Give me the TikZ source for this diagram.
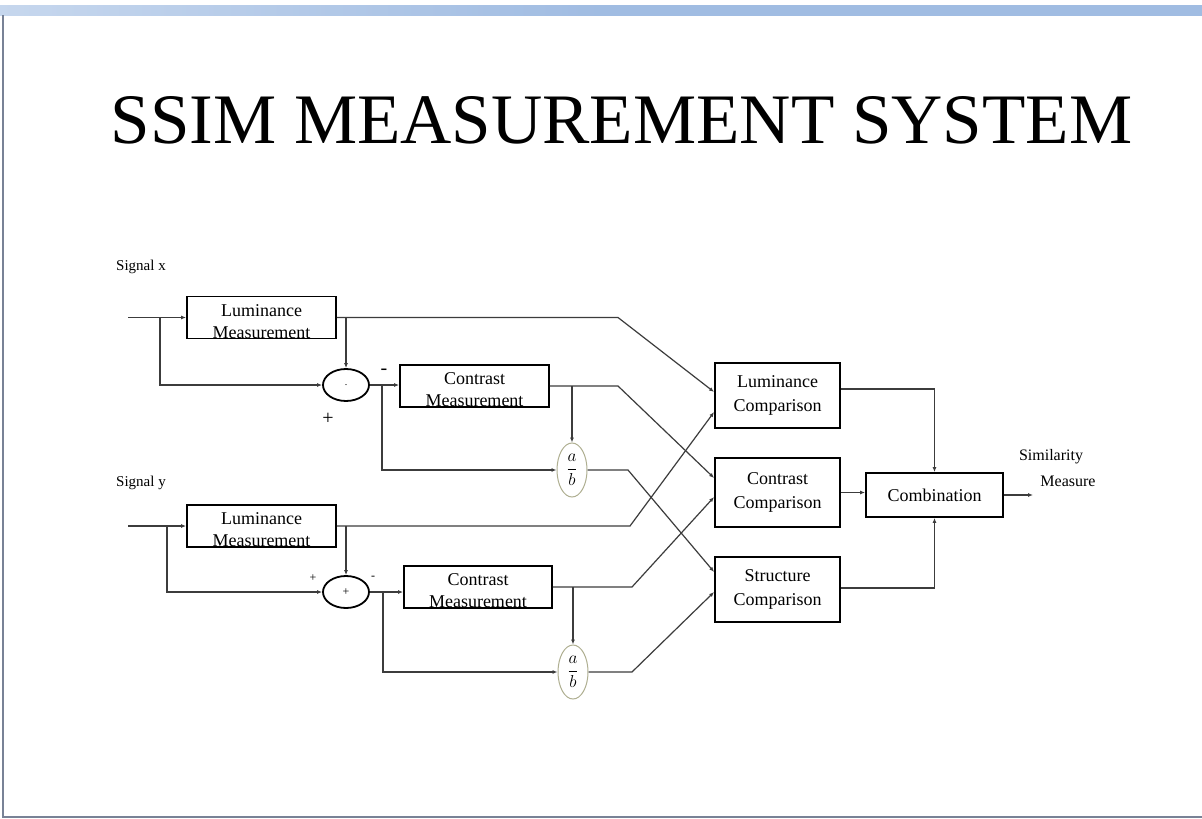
\documentclass[tikz,border=0pt]{standalone}
\usepackage{fontspec}
\setmainfont{Liberation Serif}
\usetikzlibrary{arrows.meta,shapes.geometric,calc}
\definecolor{bandblue}{RGB}{160,188,226}
\definecolor{framegray}{RGB}{120,130,150}
\definecolor{wire}{RGB}{60,60,60}
\definecolor{ellc}{RGB}{175,175,145}
\tikzset{
  mbox/.style={draw=black,line width=1.8pt,minimum width=149pt,minimum height=42pt,inner sep=0pt},
  mtext/.style={align=center,font=\fontsize{18}{22}\selectfont,inner sep=0pt},
  cbox/.style={draw=black,line width=1.8pt,minimum width=125pt,minimum height=65pt,inner sep=0pt,align=center,font=\fontsize{18}{24}\selectfont},
  sumnode/.style={ellipse,draw=black,line width=1.8pt,minimum width=46pt,minimum height=32pt,inner sep=0pt},
  divnode/.style={ellipse,draw=ellc,line width=1pt,minimum width=30pt,minimum height=54pt,inner sep=0pt,font=\fontsize{16}{18}\selectfont},
  conn/.style={draw=wire,line width=1.2pt},
  arr/.style={conn,-{Latex[length=5pt,width=4pt]}},
  lbl/.style={inner sep=0pt,font=\fontsize{15}{17}\selectfont}
}
\begin{document}
\begin{tikzpicture}[x=1pt,y=-1pt]
\useasboundingbox (0,0) rectangle (1202,819);
% frame
\fill[white] (0,0) rectangle (1202,819);
\shade[left color=bandblue!60,right color=bandblue,middle color=bandblue] (0,5) rectangle (1202,15);
\draw[framegray,line width=1.2pt] (3,15) -- (3,817) -- (1202,817);
% title
\node[anchor=base,inner sep=0pt,font=\fontsize{71}{80}\selectfont] (title) at (621.5,143) {SSIM MEASUREMENT SYSTEM};
% labels
\node[lbl,anchor=base west] (sx) at (116,270) {Signal x};
\node[lbl,anchor=base west] (sy) at (116,486) {Signal y};
\node[lbl,anchor=base,font=\fontsize{16}{18}\selectfont] (sim) at (1051,460) {Similarity};
\node[lbl,anchor=base,font=\fontsize{16}{18}\selectfont] (meas) at (1068,486) {Measure};
% coordinates
\coordinate (inx) at (128,317.5);
\coordinate (iny) at (128,526);
\coordinate (outp) at (1033,495);
% boxes
\node[mbox] (lum1) at (261.5,317.5) {};
\node[mtext] at ([yshift=-4pt]lum1.center) {Luminance\\Measurement};
\node[mbox] (con1) at (474.5,386) {};
\node[mtext] at ([yshift=-4pt]con1.center) {Contrast\\Measurement};
\node[mbox] (lum2) at (261.5,526) {};
\node[mtext] at ([yshift=-4pt]lum2.center) {Luminance\\Measurement};
\node[mbox,minimum width=148pt] (con2) at (478,587) {};
\node[mtext] at ([yshift=-4pt]con2.center) {Contrast\\Measurement};
\node[sumnode,font=\fontsize{10}{10}\selectfont] (sum1) at (346,385) {.};
\node[sumnode,font=\fontsize{12}{12}\selectfont] (sum2) at (346,592) {+};
\node[divnode] (div1) at (572,470) {$\displaystyle\frac{a}{b}$};
\node[divnode] (div2) at (573,672) {$\displaystyle\frac{a}{b}$};
\node[cbox] (lc) at (777.5,395.5) {Luminance\\Comparison};
\node[cbox,minimum height=69pt] (cc) at (777.5,492.5) {Contrast\\Comparison};
\node[cbox] (sc) at (777.5,589.5) {Structure\\Comparison};
\node[cbox,minimum width=137pt,minimum height=44pt] (comb) at (934.5,495) {Combination};
% signs
\node[inner sep=0pt,font=\fontsize{20}{20}\selectfont] (m1) at (384,372) {-};
\node[inner sep=0pt,font=\fontsize{20}{20}\selectfont] (p1) at (328,419) {+};
\node[inner sep=0pt,font=\fontsize{12}{12}\selectfont] (p2) at (313,578) {+};
\node[inner sep=0pt,font=\fontsize{12}{12}\selectfont] (m2) at (373,578) {-};
% top chain
\draw[arr] (inx) -- (lum1.west);
\draw[arr] ([xshift=32pt]inx) |- (sum1.west);
\draw[arr] (lum1.east) -- (618,317.5) -- ([yshift=3.5pt]lc.west);
\draw[arr] (lum1.east -| sum1.north) -- (sum1.north);
\draw[arr] (sum1.east) -- (sum1.east -| con1.west);
\draw[arr] ([xshift=12pt]sum1.east) |- (div1.west);
\draw[arr] (con1.east) -- (618,386) -- ([yshift=14.5pt]cc.west);
\draw[arr] (con1.east -| div1.north) -- (div1.north);
\draw[arr] (div1.east) -- (628,470) -- ([yshift=17.5pt]sc.west);
% bottom chain
\draw[arr] (iny) -- (lum2.west);
\draw[arr] ([xshift=39pt]iny) |- (sum2.west);
\draw[arr] (lum2.east) -- (630,526) -- ([yshift=-16.5pt]lc.west);
\draw[arr] (lum2.east -| sum2.north) -- (sum2.north);
\draw[arr] (sum2.east) -- (sum2.east -| con2.west);
\draw[arr] ([xshift=13pt]sum2.east) |- (div2.west);
\draw[arr] (con2.east) -- (632,587) -- ([yshift=-4.5pt]cc.west);
\draw[arr] (con2.east -| div2.north) -- (div2.north);
\draw[arr] (div2.east) -- (632,672) -- ([yshift=-2.5pt]sc.west);
% comparisons to combination
\draw[arr] ([yshift=6.5pt]lc.east) -| (comb.north);
\draw[arr] (cc.east) -- (cc.east -| comb.west);
\draw[arr] ([yshift=1.5pt]sc.east) -| (comb.south);
\draw[arr] (comb.east) -- (outp);
\end{tikzpicture}
\end{document}
